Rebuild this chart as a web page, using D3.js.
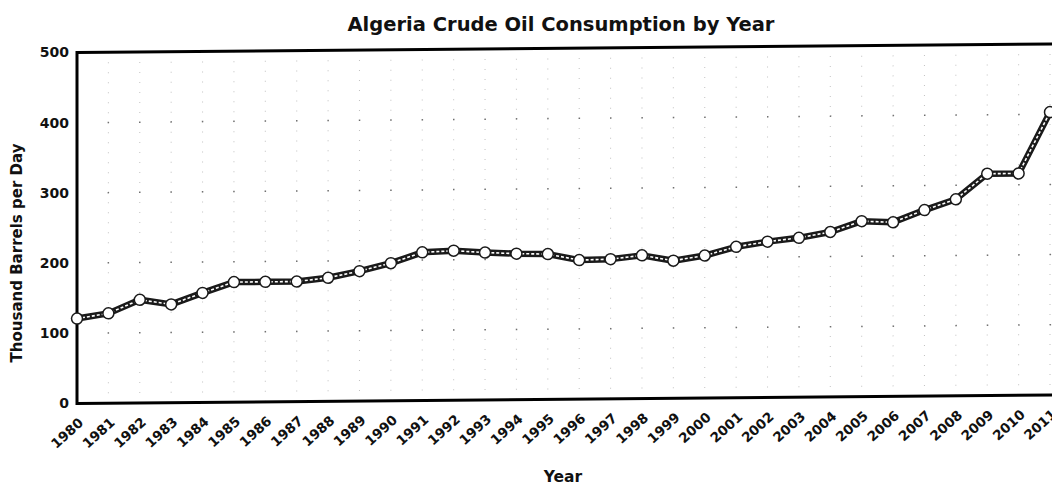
<!DOCTYPE html>
<html lang="en">
<head>
  <meta charset="UTF-8">
  <title>Algeria Crude Oil Consumption</title>
  <style>
    body { margin: 0; background: #fff; }
    text { font-family: "DejaVu Sans", Verdana, sans-serif; font-weight: bold; fill: #111; }
  </style>
</head>
<body>
  <svg id="svg" width="1052" height="485"></svg>

  <script src="https://d3js.org/d3.v7.min.js"></script>
  <script>
    // ------ DATA ------------------------
    const years = d3.range(1980, 2012)
    const consumption = [121, 128, 147, 140, 156, 171, 171, 171, 176, 185,
                         196, 211, 213, 210, 208, 207, 198, 199, 204, 196,
                         203, 215, 222, 227, 235, 250, 248, 265, 280, 316,
                         316, 403]
    const yTicks = [0, 100, 200, 300, 400, 500]

    const data = years.map((y, i) => ({ year: y, value: consumption[i] }))

    // CONSTANTS
    const plotLeft = 77, plotRight = 1050, plotTop = 52.5, plotBottom = 403.5

    // ------ SCALES ------------------------
    const xscale = d3.scalePoint()
      .domain(years)
      .range([plotLeft, plotRight])

    const yscale = d3.scaleLinear()
      .domain([0, 500])
      .range([plotBottom, plotTop])

    const svg = d3.select('#svg')

    // title
    svg.append('text')
      .attr('x', 561).attr('y', 31)
      .attr('text-anchor', 'middle')
      .style('font-size', '19.5px')
      .text('Algeria Crude Oil Consumption by Year')

    // the scanned chart leans a little, so the plot group is skewed slightly
    const plot = svg.append('g')
      .attr('transform', `translate(${plotLeft},0) skewY(-0.5) translate(${-plotLeft},0)`)

    // ------ GRID ------------------------
    plot.append('g')
      .selectAll('line')
      .data(years)
      .join('line')
      .attr('x1', d => xscale(d)).attr('x2', d => xscale(d))
      .attr('y1', plotTop).attr('y2', plotBottom)
      .attr('stroke', '#888')
      .attr('stroke-width', 1)
      .attr('stroke-dasharray', '1 9')
      .attr('opacity', 0.5)

    plot.append('g')
      .selectAll('line')
      .data(yTicks.slice(1, -1))
      .join('line')
      .attr('x1', plotLeft).attr('x2', 1060)
      .attr('y1', d => yscale(d)).attr('y2', d => yscale(d))
      .attr('stroke', '#444')
      .attr('stroke-width', 1.5)
      .attr('stroke-dasharray', '1.5 29.9')
      .attr('stroke-dashoffset', -30.6)
      .attr('opacity', 0.7)

    // ------ FRAME ------------------------
    plot.append('line')
      .attr('x1', plotLeft).attr('x2', 1060)
      .attr('y1', plotTop).attr('y2', plotTop)
      .attr('stroke', '#000').attr('stroke-width', 3)
    plot.append('line')
      .attr('x1', plotLeft).attr('x2', 1060)
      .attr('y1', plotBottom).attr('y2', plotBottom)
      .attr('stroke', '#000').attr('stroke-width', 3)
    plot.append('line')
      .attr('x1', plotLeft).attr('x2', plotLeft)
      .attr('y1', plotTop - 1.5).attr('y2', plotBottom + 1.5)
      .attr('stroke', '#000').attr('stroke-width', 3)

    // ------ AXES ------------------------
    const leftAxis = d3.axisLeft(yscale)
      .tickValues(yTicks)
      .tickSize(0)
      .tickPadding(8)
    const gy = svg.append('g')
      .attr('transform', `translate(${plotLeft},0)`)
      .call(leftAxis)
    gy.select('.domain').remove()
    gy.selectAll('text')
      .style('font-size', '14px')
      .style('font-family', '"DejaVu Sans", Verdana, sans-serif')

    const bottomAxis = d3.axisBottom(xscale).tickSize(0)
    const gx = plot.append('g')
      .attr('transform', `translate(0,${plotBottom})`)
      .call(bottomAxis)
    gx.select('.domain').remove()
    gx.selectAll('text')
      .style('font-size', '13.5px')
      .style('font-family', '"DejaVu Sans", Verdana, sans-serif')
      .attr('text-anchor', 'end')
      .attr('x', 0).attr('y', 0).attr('dy', '0.75em')
      .attr('transform', 'translate(0,13) rotate(-42)')

    // axis titles
    svg.append('text')
      .attr('transform', 'translate(22,253) rotate(-90)')
      .attr('text-anchor', 'middle')
      .style('font-size', '15px')
      .text('Thousand Barrels per Day')

    svg.append('text')
      .attr('x', 563).attr('y', 482)
      .attr('text-anchor', 'middle')
      .style('font-size', '15.5px')
      .text('Year')

    // ------ LINE ------------------------
    const line = d3.line()
      .x(d => xscale(d.year))
      .y(d => yscale(d.value))

    plot.append('path')
      .datum(data)
      .attr('d', line)
      .attr('fill', 'none')
      .attr('stroke', '#1a1a1a')
      .attr('stroke-width', 6.5)
      .attr('stroke-linejoin', 'round')

    plot.append('path')
      .datum(data)
      .attr('d', line)
      .attr('fill', 'none')
      .attr('stroke', '#fff')
      .attr('stroke-width', 1.6)
      .attr('stroke-dasharray', '3 2')

    plot.append('g')
      .selectAll('circle')
      .data(data)
      .join('circle')
      .attr('cx', d => xscale(d.year))
      .attr('cy', d => yscale(d.value))
      .attr('r', 5.5)
      .attr('fill', '#fff')
      .attr('stroke', '#1a1a1a')
      .attr('stroke-width', 1.5)
  </script>
</body>
</html>
